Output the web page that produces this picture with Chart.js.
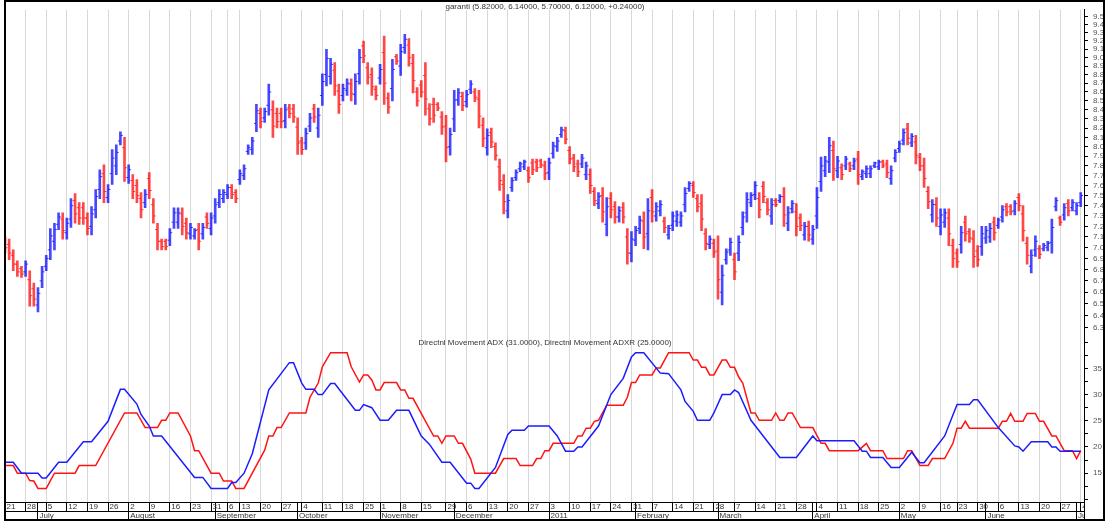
<!DOCTYPE html>
<html>
<head>
<meta charset="utf-8">
<title>garanti</title>
<script src="https://cdn.jsdelivr.net/npm/chart.js@4.4.1/dist/chart.umd.min.js"></script>
<style>
  html, body { margin: 0; padding: 0; background: #fff; }
  #wrap { position: relative; width: 1107px; height: 527px; overflow: hidden; background: #fff; }
  #chart { position: absolute; left: 0; top: 0; }
  .frame { position: absolute; left: 4px; top: 0; width: 1101px; height: 521px; box-sizing: border-box; border: 2px solid #000; pointer-events: none; }
  .title { position: absolute; left: 545px; transform: translateX(-50%); font: 8px 'Liberation Sans', Arial, sans-serif; color: #333; white-space: nowrap; line-height: 10px; }
  .mask { position: absolute; background: #fff; }
</style>
</head>
<body>
<div id="wrap">
  <canvas id="chart" width="1107" height="527"></canvas>
  <div class="mask" style="left:1085px;top:503px;width:18px;height:16px"></div>
  <div class="mask" style="left:1084px;top:502px;width:1px;height:17px;background:#000"></div>
  <div class="mask" style="left:1105px;top:0;width:2px;height:527px"></div>
  <div class="mask" style="left:0;top:521px;width:1107px;height:6px"></div>
  <div class="frame"></div>
  <div class="title" style="top:2px">garanti (5.82000, 6.14000, 5.70000, 6.12000, +0.24000)</div>
  <div class="title" style="top:338px">Directnl Movement ADX (31.0000), Directnl Movement ADXR (25.0000)</div>
</div>
<script>
// Trading-day axis: first trading day of each week and of each month (day index)
const weekStart = [0,5,10,15,20,25,30,35,40,45,50,54,57,62,67,72,77,82,87,91,96,101,107,112,117,122,127,132,137,142,147,152,157,162,167,172,177,182,187,192,197,202,207,212,217,222,227,231,236,241,246,251,256,261];
const weekLabel = ['21','28','5','12','19','26','2','9','16','23','31','6','13','20','27','4','11','18','25','1','8','15','29','6','13','20','27','3','10','17','24','31','7','14','21','28','7','14','21','28','4','11','18','25','2','9','16','23','30','6','13','20','27','4'];
const monthStart = [8,30,51,71,91,109,132,153,173,196,217,238,260];
const monthLabel = ['July','August','September','October','November','December','2011','February','March','April','May','June','July'];

// Price panel (one bar per trading day)
const opens = [7.06,7.03,6.93,6.85,6.81,6.78,6.71,6.63,6.49,6.70,
  6.83,6.98,7.06,7.22,7.27,7.14,7.27,7.45,7.38,7.38,
  7.28,7.20,7.36,7.56,7.72,7.48,7.72,7.80,8.06,7.99,
  7.68,7.65,7.60,7.47,7.43,7.67,7.41,7.17,7.06,7.06,
  7.07,7.24,7.24,7.32,7.23,7.13,7.11,7.17,7.13,7.29,
  7.18,7.30,7.43,7.47,7.51,7.58,7.53,7.66,7.70,7.95,
  7.97,8.25,8.36,8.31,8.45,8.40,8.36,8.36,8.28,8.42,
  8.41,8.21,8.06,8.04,8.22,8.41,8.20,8.56,8.80,8.78,
  8.85,8.61,8.56,8.62,8.69,8.57,8.81,9.14,8.88,8.80,
  8.63,8.76,9.06,8.53,8.64,9.01,8.90,9.12,9.15,8.93,
  8.60,8.68,8.79,8.41,8.46,8.46,8.32,8.22,8.00,8.30,
  8.51,8.55,8.49,8.63,8.60,8.52,8.23,7.99,8.15,8.00,
  7.79,7.61,7.35,7.58,7.68,7.77,7.79,7.75,7.83,7.84,
  7.85,7.80,7.73,7.93,8.00,8.13,8.17,7.96,7.88,7.82,
  7.82,7.71,7.71,7.54,7.42,7.50,7.22,7.47,7.39,7.29,
  7.38,7.10,6.95,7.07,7.18,7.25,7.13,7.48,7.30,7.35,
  7.25,7.12,7.21,7.25,7.24,7.41,7.57,7.60,7.47,7.42,
  7.13,7.03,7.04,6.97,6.60,6.89,6.98,6.89,6.95,7.19,
  7.33,7.43,7.51,7.47,7.59,7.43,7.30,7.45,7.45,7.49,
  7.23,7.37,7.34,7.28,7.12,7.20,7.08,7.30,7.64,7.75,
  7.84,7.96,7.75,7.78,7.80,7.82,7.80,7.87,7.69,7.72,
  7.72,7.80,7.79,7.84,7.82,7.67,7.88,7.98,8.07,8.19,
  8.04,8.05,7.89,7.80,7.54,7.31,7.41,7.20,7.24,7.28,
  7.02,6.95,7.03,7.24,7.15,7.08,6.97,7.01,7.09,7.10,
  7.24,7.21,7.29,7.39,7.39,7.35,7.48,7.32,7.04,6.83,
  6.98,6.99,6.99,7.00,7.05,7.39,7.28,7.31,7.42,7.38,
  7.35,7.43];
const highs = [7.10,7.08,6.98,6.88,6.83,6.88,6.79,6.68,6.64,6.83,
  6.93,7.18,7.23,7.33,7.33,7.28,7.47,7.52,7.43,7.43,
  7.33,7.39,7.56,7.76,7.81,7.61,7.97,8.02,8.16,8.10,
  7.81,7.71,7.66,7.53,7.56,7.73,7.47,7.23,7.08,7.08,
  7.18,7.38,7.38,7.38,7.28,7.23,7.18,7.23,7.23,7.33,
  7.33,7.47,7.56,7.56,7.61,7.61,7.56,7.76,7.81,8.02,
  8.10,8.46,8.42,8.42,8.69,8.50,8.42,8.42,8.46,8.46,
  8.46,8.31,8.10,8.20,8.36,8.46,8.42,8.81,9.10,8.99,
  8.94,8.69,8.69,8.75,8.75,8.81,9.10,9.20,8.94,8.88,
  8.67,8.92,9.26,8.59,8.98,9.04,9.16,9.28,9.23,9.04,
  8.65,8.73,8.94,8.47,8.53,8.48,8.38,8.34,8.20,8.62,
  8.64,8.60,8.62,8.73,8.64,8.62,8.31,8.19,8.20,8.04,
  7.87,7.71,7.51,7.68,7.76,7.84,7.86,7.79,7.87,7.87,
  7.87,7.85,7.88,8.05,8.10,8.21,8.21,8.00,7.92,7.86,
  7.92,7.84,7.77,7.58,7.53,7.58,7.48,7.53,7.44,7.39,
  7.43,7.18,7.15,7.20,7.30,7.34,7.47,7.56,7.43,7.45,
  7.29,7.21,7.34,7.35,7.34,7.58,7.64,7.64,7.51,7.51,
  7.18,7.11,7.08,7.11,6.84,6.99,7.09,6.95,7.11,7.34,
  7.53,7.53,7.64,7.53,7.64,7.47,7.47,7.47,7.51,7.58,
  7.39,7.45,7.42,7.32,7.24,7.25,7.21,7.58,7.89,7.90,
  8.10,8.06,7.90,7.82,7.90,7.84,7.88,7.95,7.76,7.80,
  7.80,7.84,7.86,7.86,7.86,7.80,7.97,8.06,8.19,8.25,
  8.14,8.12,7.93,7.88,7.59,7.46,7.48,7.37,7.37,7.37,
  7.08,6.99,7.20,7.30,7.18,7.16,7.02,7.20,7.20,7.23,
  7.29,7.28,7.40,7.42,7.41,7.45,7.52,7.40,7.10,6.98,
  7.11,7.02,7.04,7.06,7.27,7.48,7.30,7.42,7.46,7.46,
  7.43,7.53];
const lows = [6.95,6.89,6.79,6.74,6.73,6.74,6.48,6.48,6.43,6.64,
  6.79,6.89,6.98,7.17,7.08,7.08,7.19,7.23,7.22,7.22,
  7.12,7.12,7.28,7.47,7.43,7.43,7.61,7.71,8.02,7.64,
  7.62,7.47,7.43,7.28,7.38,7.47,7.23,6.98,6.98,6.98,
  7.02,7.18,7.18,7.12,7.08,7.08,7.08,6.98,7.08,7.18,
  7.12,7.23,7.38,7.43,7.47,7.47,7.43,7.61,7.66,7.92,
  7.92,8.16,8.20,8.26,8.34,8.10,8.20,8.20,8.20,8.31,
  8.26,7.92,7.92,7.97,8.16,8.26,8.10,8.45,8.67,8.69,
  8.56,8.36,8.50,8.56,8.50,8.46,8.69,8.94,8.69,8.56,
  8.51,8.69,8.46,8.36,8.50,8.92,8.79,9.05,8.90,8.59,
  8.44,8.54,8.34,8.23,8.26,8.39,8.13,7.84,7.91,8.16,
  8.45,8.39,8.43,8.58,8.49,8.20,8.00,7.91,7.99,7.86,
  7.55,7.32,7.28,7.54,7.65,7.74,7.76,7.63,7.71,7.74,
  7.78,7.66,7.66,7.88,7.95,8.10,8.03,7.82,7.74,7.69,
  7.78,7.66,7.52,7.40,7.37,7.24,7.11,7.28,7.23,7.24,
  7.23,6.85,6.87,7.02,7.13,6.99,6.98,7.24,7.25,7.30,
  7.14,7.08,7.16,7.20,7.20,7.34,7.54,7.48,7.34,7.16,
  6.98,6.99,6.91,6.54,6.49,6.85,6.93,6.71,6.88,7.12,
  7.24,7.39,7.46,7.28,7.43,7.31,7.22,7.39,7.43,7.20,
  7.16,7.33,7.11,7.16,7.07,7.06,7.03,7.18,7.54,7.69,
  7.73,7.65,7.68,7.66,7.76,7.74,7.76,7.61,7.66,7.68,
  7.68,7.78,7.76,7.78,7.68,7.61,7.84,7.94,8.02,8.02,
  8.00,7.82,7.75,7.58,7.37,7.24,7.20,7.12,7.19,7.02,
  6.82,6.82,6.95,7.06,7.05,6.82,6.83,6.93,7.04,7.05,
  7.07,7.18,7.24,7.30,7.31,7.31,7.35,7.06,6.85,6.77,
  6.92,6.90,6.97,6.97,6.95,7.35,7.21,7.26,7.30,7.35,
  7.31,7.39];
const closes = [7.00,6.95,6.85,6.78,6.76,6.85,6.57,6.54,6.59,6.78,
  6.90,7.11,7.17,7.29,7.16,7.23,7.40,7.32,7.28,7.28,
  7.18,7.32,7.49,7.69,7.54,7.56,7.88,7.94,8.12,7.78,
  7.76,7.54,7.50,7.36,7.51,7.55,7.30,7.06,7.01,7.01,
  7.14,7.33,7.33,7.20,7.14,7.19,7.16,7.06,7.19,7.23,
  7.28,7.41,7.51,7.53,7.58,7.51,7.47,7.72,7.77,7.99,
  8.06,8.39,8.27,8.38,8.60,8.22,8.27,8.27,8.40,8.36,
  8.32,8.04,7.97,8.14,8.31,8.32,8.34,8.72,8.99,8.92,
  8.67,8.46,8.64,8.70,8.58,8.72,9.00,9.02,8.77,8.66,
  8.56,8.86,8.70,8.43,8.86,8.96,9.07,9.22,9.00,8.73,
  8.50,8.60,8.52,8.30,8.34,8.42,8.21,7.99,8.13,8.51,
  8.59,8.45,8.57,8.69,8.54,8.33,8.09,8.12,8.05,7.91,
  7.65,7.44,7.45,7.65,7.73,7.82,7.84,7.68,7.76,7.78,
  7.81,7.72,7.83,8.01,8.06,8.18,8.08,7.87,7.79,7.74,
  7.88,7.80,7.60,7.45,7.49,7.34,7.39,7.36,7.29,7.35,
  7.29,6.95,7.08,7.16,7.26,7.10,7.35,7.34,7.39,7.41,
  7.19,7.18,7.30,7.31,7.30,7.52,7.62,7.53,7.39,7.27,
  7.04,7.08,6.96,6.71,6.75,6.96,7.05,6.78,7.05,7.29,
  7.46,7.50,7.60,7.36,7.49,7.36,7.41,7.41,7.49,7.31,
  7.33,7.42,7.20,7.21,7.20,7.12,7.17,7.48,7.80,7.85,
  8.01,7.77,7.85,7.71,7.87,7.77,7.85,7.71,7.74,7.77,
  7.77,7.83,7.84,7.80,7.73,7.75,7.94,8.03,8.15,8.09,
  8.11,7.91,7.80,7.67,7.44,7.41,7.28,7.31,7.33,7.13,
  6.90,6.87,7.14,7.13,7.09,6.92,6.89,7.13,7.16,7.18,
  7.14,7.26,7.36,7.34,7.34,7.42,7.40,7.16,6.93,6.93,
  7.06,6.94,7.02,7.04,7.19,7.45,7.24,7.38,7.35,7.43,
  7.40,7.50];
const priceTicks = [6.3,6.4,6.5,6.6,6.7,6.8,6.9,7.0,7.1,7.2,7.3,7.4,7.5,7.6,7.7,7.8,7.9,8.0,8.1,8.2,8.3,8.4,8.5,8.6,8.7,8.8,8.9,9.0,9.1,9.2,9.3,9.4,9.5];

// Indicator panel: turning points (day index, value)
const adxDays = [0,2,4,8,9,10,13,15,19,21,25,28,29,32,33,35,36,38,46,48,50,54,55,56,58,60,64,69,70,72,73,75,76,77,79,80,85,86,87,89,91,93,95,98,101,103,106,108,112,113,114,115,119,122,123,126,127,132,134,136,138,139,140,144,147,150,152,153,155,159,161,164,165,167,168,171,172,174,176,177,178,181,188,192,196,197,206,208,209,210,213,215,217,220,222,223,228,231,234,235,236,241,245,246,247,249,253,254,255,256,261];
const adxValues = [17.1,17.1,15.0,15.0,14.1,14.1,17.1,17.1,21.0,21.0,24.9,31.0,31.0,28.2,26.2,24.0,22.1,22.1,14.2,14.2,12.1,12.1,13.2,13.2,15.0,18.7,30.9,36.1,36.1,32.2,31.0,31.0,30.0,30.0,32.1,32.1,27.0,27.0,28.1,27.5,25.1,25.1,27.0,27.0,22.1,20.5,17.1,17.1,13.1,13.1,12.1,12.1,16.1,22.4,23.2,23.2,24.0,24.0,22.1,19.2,19.2,20.0,20.0,24.0,30.0,33.1,37.2,38.0,38.0,34.1,34.0,30.9,28.7,26.8,25.1,25.1,26.5,30.0,30.0,30.9,30.4,25.1,18.0,18.0,22.1,21.2,21.2,19.2,19.2,18.0,18.0,16.1,16.1,19.0,17.0,17.0,22.1,28.1,28.1,29.0,29.0,23.7,20.2,20.0,19.2,21.0,21.0,20.0,20.0,19.2,19.2];
const adxrDays = [0,2,3,5,6,7,8,10,12,17,18,22,29,32,34,37,38,39,40,42,45,46,47,50,52,53,55,56,58,63,64,65,66,67,69,73,74,76,77,79,83,84,86,87,88,89,90,91,92,95,96,97,98,99,104,105,106,107,109,110,111,113,114,119,121,124,125,128,129,130,131,132,133,138,139,140,141,142,143,144,146,150,151,152,153,154,157,158,159,161,166,167,168,169,170,171,172,174,175,176,177,178,179,181,182,183,186,187,188,189,190,191,193,196,198,199,200,207,209,210,213,214,218,219,220,222,224,225,228,230,231,232,233,234,241,242,243,244,245,247,248,250,251,252,254,255,257,259,260,261];
const adxrValues = [16.45,16.45,15.0,15.0,13.6,13.5,12.1,12.1,15.0,15.0,16.45,16.45,26.5,26.5,23.7,23.7,25.1,25.1,26.5,26.5,22.1,19.3,19.3,15.0,15.0,13.5,13.5,12.1,12.1,19.4,22.1,22.1,23.7,23.7,26.5,26.5,29.5,32.2,35.3,38.0,38.0,35.3,32.4,33.75,33.75,32.8,30.9,30.9,32.3,32.3,30.9,30.9,29.3,29.3,22.1,22.1,20.7,22.1,22.1,20.7,20.7,17.7,15.0,15.0,17.8,17.8,16.45,16.45,17.8,17.8,19.3,19.3,20.7,20.7,22.1,22.1,23.6,23.6,24.9,25.1,27.96,27.96,29.5,32.3,32.3,33.75,33.75,35.1,35.1,38.0,38.0,36.6,36.6,35.2,35.2,33.75,33.75,36.6,36.6,35.2,35.2,33.4,32.2,26.5,26.5,25.1,25.1,26.5,25.1,25.1,26.5,26.5,23.7,23.7,20.7,20.7,19.3,19.3,20.7,19.3,19.3,17.8,17.8,19.3,19.3,16.45,16.45,17.8,17.8,20.7,23.6,23.6,24.9,23.6,23.6,24.9,24.9,26.4,24.9,24.9,26.4,26.4,24.9,24.9,22.1,22.1,19.3,19.3,17.8,19.3];
const adxTicks = [10,12.5,15,17.5,20,22.5,25,27.5,30,32.5,35,37.5,40];

Chart.defaults.font.family = "'Liberation Sans', Arial, sans-serif";
Chart.defaults.font.size = 8;

// up day = blue, down day = red
const barColors = closes.map((c, i) => c >= opens[i] ? 'rgba(0,0,255,0.72)' : 'rgba(255,0,0,0.72)');
const dayTicks = weekStart.concat(monthStart.filter(m => !weekStart.includes(m))).sort((a, b) => a - b);
const X_MAX = 261.8;

new Chart(document.getElementById('chart'), {
  type: 'bar',
  data: {
    datasets: [
      {
        type: 'bar', label: 'garanti', xAxisID: 'x', yAxisID: 'yP',
        data: highs.map((h, i) => ({ x: i, y: [lows[i], h] })),
        backgroundColor: barColors, borderWidth: 0, barThickness: 2,
      },
      {
        type: 'scatter', label: 'open', xAxisID: 'x', yAxisID: 'yP',
        data: opens.map((o, i) => ({ x: i - 0.35, y: o })),
        pointStyle: 'line', pointRadius: 1, pointBorderWidth: 1, pointBorderColor: barColors,
      },
      {
        type: 'scatter', label: 'close', xAxisID: 'x', yAxisID: 'yP',
        data: closes.map((c, i) => ({ x: i + 0.35, y: c })),
        pointStyle: 'line', pointRadius: 1, pointBorderWidth: 1, pointBorderColor: barColors,
      },
      {
        type: 'line', label: 'ADX', xAxisID: 'x', yAxisID: 'yA',
        data: adxDays.map((d, k) => ({ x: d, y: adxValues[k] })),
        borderColor: '#1c1cff', borderWidth: 1.5, pointRadius: 0, tension: 0,
      },
      {
        type: 'line', label: 'ADXR', xAxisID: 'x', yAxisID: 'yA',
        data: adxrDays.map((d, k) => ({ x: d, y: adxrValues[k] })),
        borderColor: '#ff1414', borderWidth: 1.5, pointRadius: 0, tension: 0,
      },
    ],
  },
  options: {
    responsive: false,
    animation: false,
    devicePixelRatio: 1,
    layout: { padding: { left: 4.38, right: 0, top: 3, bottom: 8 } },
    plugins: { legend: { display: false }, tooltip: { enabled: false } },
    scales: {
      x: {
        type: 'linear', position: 'bottom', min: 0, max: X_MAX, bounds: 'data', offset: false,
        afterBuildTicks: s => { s.ticks = dayTicks.map(v => ({ value: v })); },
        afterFit: s => { s.height = 9; },
        grid: {
          offset: false, lineWidth: 1, tickLength: 9, tickColor: '#000',
          color: c => (c.tick && weekStart.includes(c.tick.value)) ? '#d8d8d8' : 'rgba(0,0,0,0)',
        },
        border: { display: true, color: '#000', width: 1 },
        ticks: {
          autoSkip: false, maxRotation: 0, minRotation: 0, align: 'start', labelOffset: 1.5, padding: -9,
          color: '#333', font: { size: 8 },
          callback: v => { const k = weekStart.indexOf(v); return k >= 0 ? weekLabel[k] : ''; },
        },
      },
      xm: {
        type: 'linear', position: 'bottom', min: 0, max: X_MAX, bounds: 'data', offset: false,
        afterBuildTicks: s => { s.ticks = monthStart.map(v => ({ value: v })); },
        afterFit: s => { s.height = 8; },
        grid: { drawOnChartArea: false, offset: false, tickLength: 8, tickColor: '#000' },
        border: { display: true, color: '#000', width: 1 },
        ticks: {
          autoSkip: false, maxRotation: 0, minRotation: 0, align: 'start', labelOffset: 1.5, padding: -8,
          color: '#333', font: { size: 8 },
          callback: v => monthLabel[monthStart.indexOf(v)] || '',
        },
      },
      yP: {
        type: 'logarithmic', position: 'right', stack: 'panels', stackWeight: 337,
        min: 6.178, max: 9.587, bounds: 'data',
        afterBuildTicks: s => { s.ticks = priceTicks.map(v => ({ value: v })); },
        afterFit: s => { s.width = 23; },
        grid: { drawOnChartArea: false, tickLength: 4, tickColor: '#000' },
        border: { display: true, color: '#000', width: 1 },
        ticks: { autoSkip: false, padding: 5, color: '#555', font: { size: 8 }, callback: v => Number(v).toFixed(1) },
      },
      yA: {
        type: 'linear', position: 'right', stack: 'panels', stackWeight: 162,
        min: 9.5, max: 40, bounds: 'data',
        afterBuildTicks: s => { s.ticks = adxTicks.map(v => ({ value: v })); },
        afterFit: s => { s.width = 23; },
        grid: { drawOnChartArea: false, tickLength: 4, tickColor: '#000' },
        border: { display: true, color: '#000', width: 1 },
        ticks: {
          autoSkip: false, padding: 5, color: '#555', font: { size: 8 },
          callback: v => (v % 5 === 0 && v >= 15 && v <= 35) ? String(v) : '',
        },
      },
    },
  },
});
</script>
</body>
</html>
